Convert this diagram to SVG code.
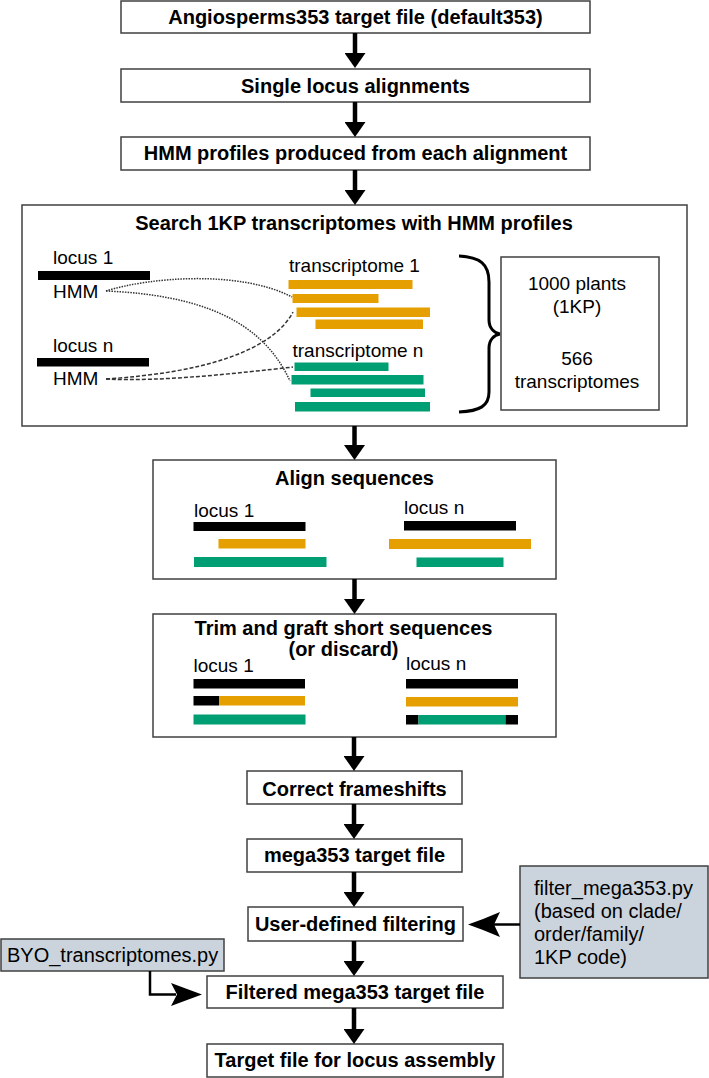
<svg xmlns="http://www.w3.org/2000/svg" width="709" height="1078" viewBox="0 0 709 1078">
<style>
.box{fill:#fff;stroke:#404040;stroke-width:1.5}
.gbox{fill:#cbd4dc;stroke:#404040;stroke-width:1.5}
.t{font-family:"Liberation Sans",Arial,sans-serif;font-size:20px;font-weight:bold;fill:#000;text-anchor:middle}
.n{font-family:"Liberation Sans",Arial,sans-serif;font-size:19px;fill:#000}
.n2{font-family:"Liberation Sans",Arial,sans-serif;font-size:20px;fill:#000}
.blk{fill:#000}
.org{fill:#e69f00}
.grn{fill:#009e73}
.flow{stroke:#000;stroke-width:4.5;fill:none}
.side{stroke:#000;stroke-width:2.5;fill:none}
.dot{stroke:#333;stroke-width:1.5;fill:none;stroke-dasharray:1.5 1.2}
.dash{stroke:#333;stroke-width:1.5;fill:none;stroke-dasharray:4 2}
.brace{stroke:#000;stroke-width:3;fill:none}
</style>
<defs>
<marker id="ah" markerUnits="userSpaceOnUse" viewBox="0 0 15 21" markerWidth="15" markerHeight="21" refX="0" refY="10.5" orient="auto">
<path d="M0,0 L15,10.5 L0,21 z" fill="#000"/>
</marker>
</defs>

<g id="n1"><rect class="box" x="121" y="1" width="469" height="32"/><text class="t" x="355.5" y="24">Angiosperms353 target file (default353)</text></g>
<g id="n2"><rect class="box" x="121" y="69" width="469" height="33"/><text class="t" x="355.5" y="92.5">Single locus alignments</text></g>
<g id="n3"><rect class="box" x="121" y="137" width="469" height="33"/><text class="t" x="355.5" y="160">HMM profiles produced from each alignment</text></g>

<g id="n4">
<rect class="box" x="22" y="205" width="665" height="221"/>
<text class="t" x="354" y="230">Search 1KP transcriptomes with HMM profiles</text>
<text class="n" x="53" y="264">locus 1</text>
<rect class="blk" x="38" y="271" width="112" height="9"/>
<text class="n" x="53" y="298">HMM</text>
<text class="n" x="53" y="352">locus n</text>
<rect class="blk" x="37" y="358" width="112" height="8.5"/>
<text class="n" x="53" y="385">HMM</text>
<text class="n" x="289" y="271.5">transcriptome 1</text>
<rect class="org" x="288.5" y="280" width="124" height="9"/>
<rect class="org" x="292.5" y="294" width="86" height="9"/>
<rect class="org" x="296.5" y="307.5" width="133.5" height="9.5"/>
<rect class="org" x="315.5" y="319.5" width="107.5" height="9.5"/>
<text class="n" x="292.5" y="356.5">transcriptome n</text>
<rect class="grn" x="294.5" y="362.5" width="94" height="8.5"/>
<rect class="grn" x="291.5" y="375" width="132" height="9.5"/>
<rect class="grn" x="310.5" y="388.5" width="114.5" height="8.5"/>
<rect class="grn" x="295" y="402" width="135" height="9.5"/>
<path class="dot" d="M106,291 C150,277 240,270 292,297"/>
<path class="dot" d="M106,291 C200,295 262,320 290,381"/>
<path class="dash" d="M106,379 C200,373 272,352 293,312"/>
<path class="dash" d="M106,379 C160,382 240,373 293,367"/>
<path class="brace" d="M459,256 C480,257 489,264 489,282 L489,320 C489,328 494,333 500,334 C494,335 489,340 489,348 L489,392 C489,406 480,411 459,412"/>
<rect class="box" x="501" y="257" width="158" height="153"/>
<text class="n" x="577" y="290" text-anchor="middle">1000 plants</text>
<text class="n" x="577" y="313" text-anchor="middle">(1KP)</text>
<text class="n" x="577" y="365" text-anchor="middle">566</text>
<text class="n" x="577" y="388" text-anchor="middle">transcriptomes</text>
</g>

<g id="n5">
<rect class="box" x="153" y="460" width="403" height="119"/>
<text class="t" x="354.5" y="485">Align sequences</text>
<text class="n" x="194" y="516.5">locus 1</text>
<rect class="blk" x="193.5" y="522" width="112" height="9"/>
<rect class="org" x="218.5" y="539" width="87" height="9.5"/>
<rect class="grn" x="194" y="557" width="132.5" height="10"/>
<text class="n" x="404" y="514">locus n</text>
<rect class="blk" x="404" y="521" width="112" height="9.5"/>
<rect class="org" x="389" y="539" width="142" height="10"/>
<rect class="grn" x="416.5" y="557.5" width="87" height="9.5"/>
</g>

<g id="n6">
<rect class="box" x="153" y="614" width="403" height="123"/>
<text class="t" x="343.5" y="635">Trim and graft short sequences</text>
<text class="t" x="343.5" y="656">(or discard)</text>
<text class="n" x="193.5" y="671.5">locus 1</text>
<rect class="blk" x="193.5" y="679" width="111.5" height="9.5"/>
<rect class="blk" x="193.5" y="696" width="25.5" height="9.5"/>
<rect class="org" x="219" y="696" width="86" height="9.5"/>
<rect class="grn" x="193.5" y="714.5" width="112" height="10"/>
<text class="n" x="406" y="670">locus n</text>
<rect class="blk" x="406" y="679" width="112" height="9.5"/>
<rect class="org" x="406" y="697" width="112" height="9.5"/>
<rect class="blk" x="406" y="715" width="12.5" height="9.5"/>
<rect class="grn" x="418.5" y="715" width="87" height="9.5"/>
<rect class="blk" x="505.5" y="715" width="12.5" height="9.5"/>
</g>

<g id="n7"><rect class="box" x="247" y="771" width="215" height="33"/><text class="t" x="354.5" y="796">Correct frameshifts</text></g>
<g id="n8"><rect class="box" x="247" y="839" width="215" height="33"/><text class="t" x="354.5" y="862">mega353 target file</text></g>
<g id="n9"><rect class="box" x="248" y="907" width="215" height="34"/><text class="t" x="355.5" y="931">User-defined filtering</text></g>
<g id="n10"><rect class="box" x="207" y="976" width="296" height="32"/><text class="t" x="355" y="999">Filtered mega353 target file</text></g>
<g id="n11"><rect class="box" x="207" y="1044" width="296" height="33"/><text class="t" x="355" y="1067">Target file for locus assembly</text></g>

<g id="n12">
<rect class="gbox" x="520" y="866" width="188" height="112"/>
<text class="n2" x="534" y="895">filter_mega353.py</text>
<text class="n2" x="534" y="918">(based on clade/</text>
<text class="n2" x="534" y="941">order/family/</text>
<text class="n2" x="534" y="964">1KP code)</text>
</g>
<g id="n13">
<rect class="gbox" x="1" y="939" width="223" height="32"/>
<text class="n2" x="7" y="962">BYO_transcriptomes.py</text>
</g>

<g id="connectors">
<line class="flow" x1="355" y1="33" x2="355" y2="53" marker-end="url(#ah)"/>
<line class="flow" x1="355" y1="102" x2="355" y2="122" marker-end="url(#ah)"/>
<line class="flow" x1="355" y1="170" x2="355" y2="190" marker-end="url(#ah)"/>
<line class="flow" x1="354.5" y1="426" x2="354.5" y2="445" marker-end="url(#ah)"/>
<line class="flow" x1="354.5" y1="579" x2="354.5" y2="599" marker-end="url(#ah)"/>
<line class="flow" x1="354" y1="737" x2="354" y2="756" marker-end="url(#ah)"/>
<line class="flow" x1="354" y1="804" x2="354" y2="824" marker-end="url(#ah)"/>
<line class="flow" x1="354" y1="872" x2="354" y2="892" marker-end="url(#ah)"/>
<line class="flow" x1="354" y1="941" x2="354" y2="961" marker-end="url(#ah)"/>
<line class="flow" x1="354" y1="1008" x2="354" y2="1029" marker-end="url(#ah)"/>
<line class="side" x1="520" y1="924.5" x2="494" y2="924.5"/>
<path d="M468,924.5 Q484,919 500,912 L494,924.5 L500,937 Q484,930 468,924.5 z" fill="#000"/>
<polyline class="side" points="150,971 150,994.5 176,994.5"/>
<path d="M202,994.5 Q187,989 171,983 L177,994.5 L171,1006 Q187,1000 202,994.5 z" fill="#000"/>
</g>
</svg>
